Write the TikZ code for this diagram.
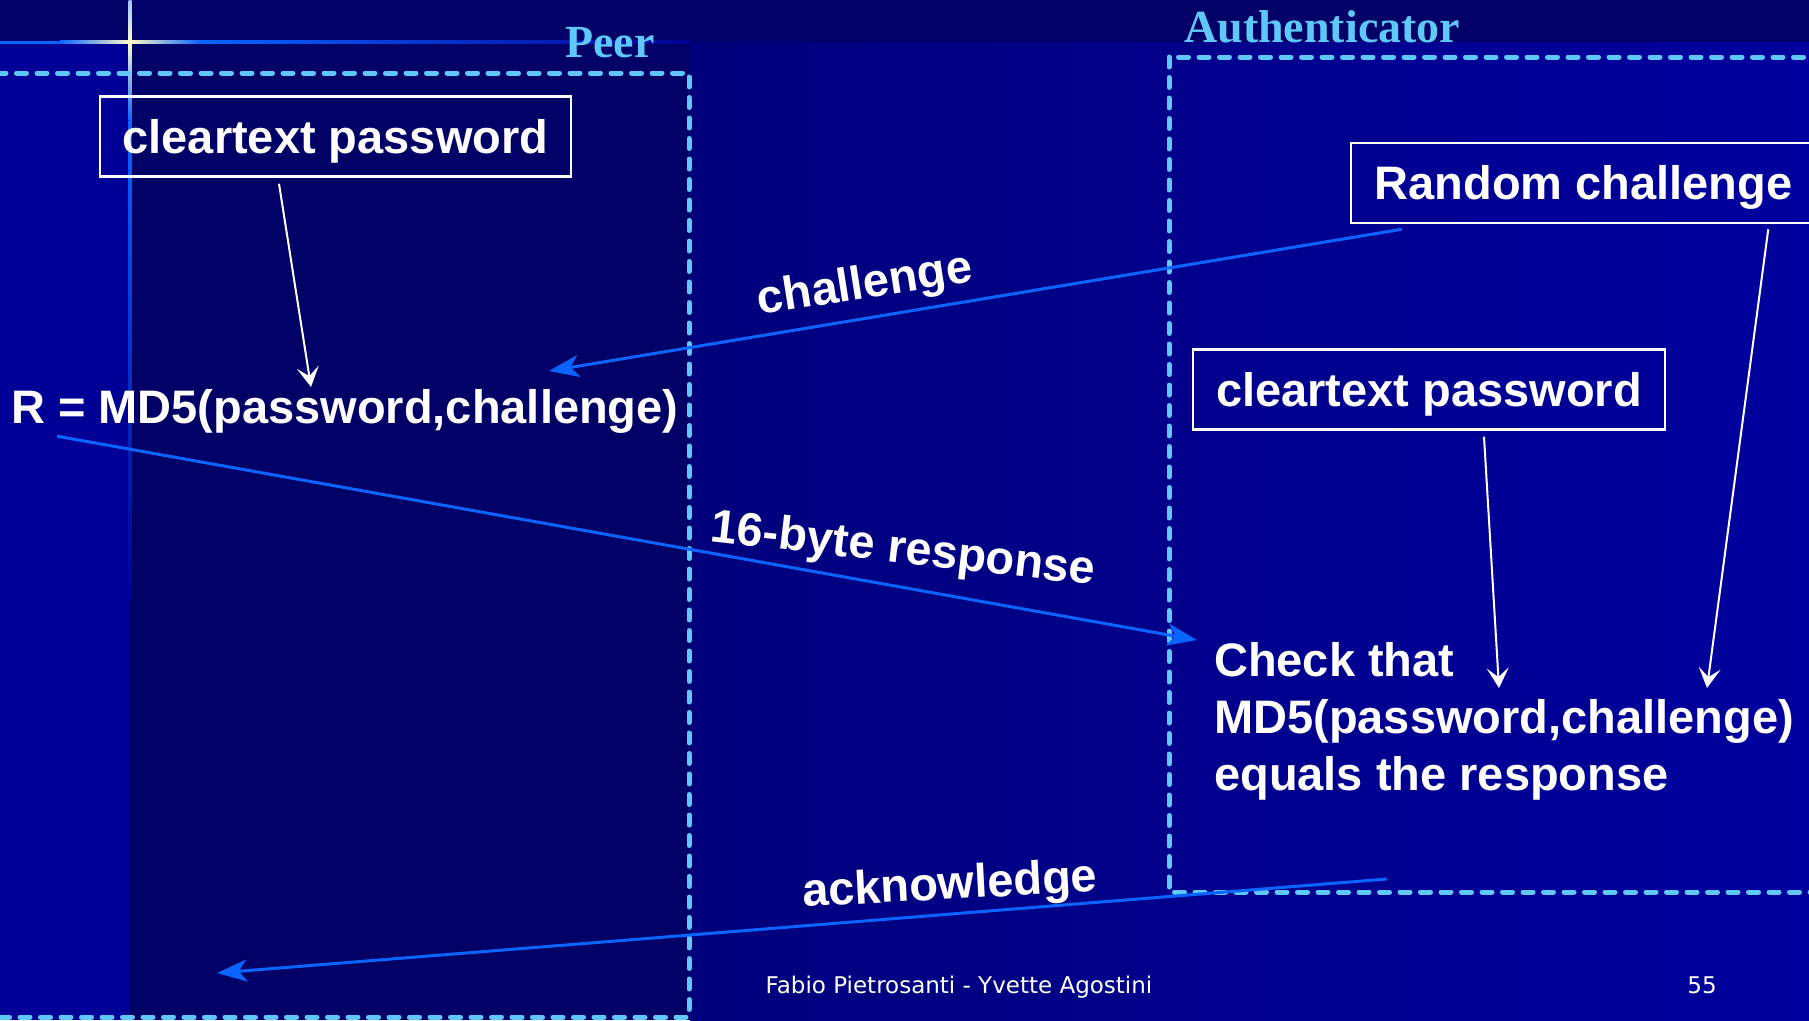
\documentclass[tikz,border=0pt]{standalone}
\usepackage{fontspec}
\setmainfont{Liberation Sans}
\newfontfamily\titleserif{Liberation Serif}
\newfontfamily\footsans{DejaVu Sans}
\usetikzlibrary{arrows.meta}

\definecolor{bgdark}{RGB}{0,0,102}
\definecolor{bgstrip}{RGB}{0,0,150}
\definecolor{bgmid}{RGB}{0,0,124}
\definecolor{bgright}{RGB}{0,0,158}
\definecolor{dashblue}{RGB}{95,200,250}
\definecolor{msgblue}{RGB}{10,100,255}
\definecolor{glow}{RGB}{255,255,200}

\newcommand{\boldbig}{\fontsize{47}{57}\selectfont\bfseries}

\tikzstyle{txtbox}=[draw=white,line width=2.5pt,text=white,font=\boldbig,inner sep=0pt,minimum height=80pt,text height=40pt,text depth=7pt]
\tikzstyle{plain}=[text=white,font=\boldbig,inner sep=0pt]
\tikzstyle{side}=[text=dashblue,font=\titleserif\bfseries\fontsize{46}{50}\selectfont,inner sep=0pt,anchor=base west]
\tikzstyle{dashbox}=[draw=dashblue,line width=5pt,dash pattern=on 10pt off 10.5pt,line cap=round]
\tikzstyle{msg}=[draw=msgblue,line width=3pt,-{Stealth[length=30pt,width=22pt,inset=8pt]}]
\tikzstyle{flow}=[draw=white,line width=2pt,-{Stealth[length=20pt,width=22pt,inset=9pt]}]
\tikzstyle{foot}=[text=white,font=\footsans\fontsize{23}{26}\selectfont,inner sep=0pt,anchor=base]

\begin{document}
\begin{tikzpicture}[x=1pt,y=-1pt]
  \useasboundingbox (0,0) rectangle (1809,1020);
  % slide background
  \fill[bgdark] (0,0) rectangle (1809,1020);
  \fill[bgstrip] (0,42) rectangle (130,1020);
  \shade[left color=bgmid,right color=bgright] (690,42) rectangle (1809,1020);
  % glowing cross in the corner
  \fill[msgblue] (0,40.5) rectangle (60,43.5);
  \shade[left color=msgblue,right color=glow] (60,40.5) rectangle (130,43.5);
  \shade[left color=glow,right color=msgblue] (130,40.5) rectangle (200,43.5);
  \shade[left color=msgblue,right color=bgstrip] (200,40.5) rectangle (690,43.5);
  \shade[top color=msgblue!40!white,bottom color=glow] (128.5,0) rectangle (131.5,42);
  \shade[top color=glow,bottom color=msgblue] (128.5,42) rectangle (131.5,120);
  \shade[top color=msgblue,bottom color=bgstrip] (128.5,120) rectangle (131.5,600);

  % the two sides
  \draw[dashbox] (-20,73) rectangle (689,1017);
  \draw[dashbox] (1169,57) rectangle (1830,892);
  \node[side] (peer) at (565,57) {Peer};
  \node[side] (auth) at (1184,42) {Authenticator};

  % boxes and texts
  \node[txtbox,minimum width=471pt] (pwpeer) at (335.5,136.5) {cleartext password};
  \node[txtbox,minimum width=465pt] (rand) at (1583.5,183) {Random challenge};
  \node[txtbox,minimum width=472pt] (pwauth) at (1429,389.5) {cleartext password};
  \node[plain,anchor=base west] (rmd5) at (11,423) {R = MD5(password,challenge)};
  \node[plain,anchor=north west,align=left] (check) at (1214,642)
    {Check that\\MD5(password,challenge)\\equals the response};

  % free ends of the arrows
  \coordinate (rtop) at (311,387);
  \coordinate (chtip) at (549,371);
  \coordinate (pwtip) at (1499,688);
  \coordinate (rndtip) at (1707,688);
  \coordinate (ackfrom) at (1387,879);
  \coordinate (acktip) at (217,973);

  % arrows
  \draw[flow] ([xshift=-56.5pt,yshift=-6pt]pwpeer.south) -- (rtop);
  \draw[msg] ([xshift=52pt,yshift=-5pt]rand.south west) -- (chtip);
  \draw[msg] ([xshift=46pt,yshift=-3pt]rmd5.south west) -- ([xshift=-17pt,yshift=2pt]check.north west);
  \draw[flow] ([xshift=55pt,yshift=-6pt]pwauth.south) -- (pwtip);
  \draw[flow] ([xshift=-49pt,yshift=-5pt]rand.south east) -- (rndtip);
  \draw[msg] (ackfrom) -- (acktip);

  % message labels
  \foreach \pos/\ang/\name/\txt in {{(865,286)/9/chlbl/challenge},
    {(903,551)/-6.5/rsplbl/16-byte response},
    {(950,887)/3/acklbl/acknowledge}}
    \node[plain,rotate=\ang] (\name) at \pos {\txt};

  % footer
  \node[foot] (author) at (959,993) {Fabio Pietrosanti - Yvette Agostini};
  \node[foot] (page) at (1702,993) {55};
\end{tikzpicture}
\end{document}
